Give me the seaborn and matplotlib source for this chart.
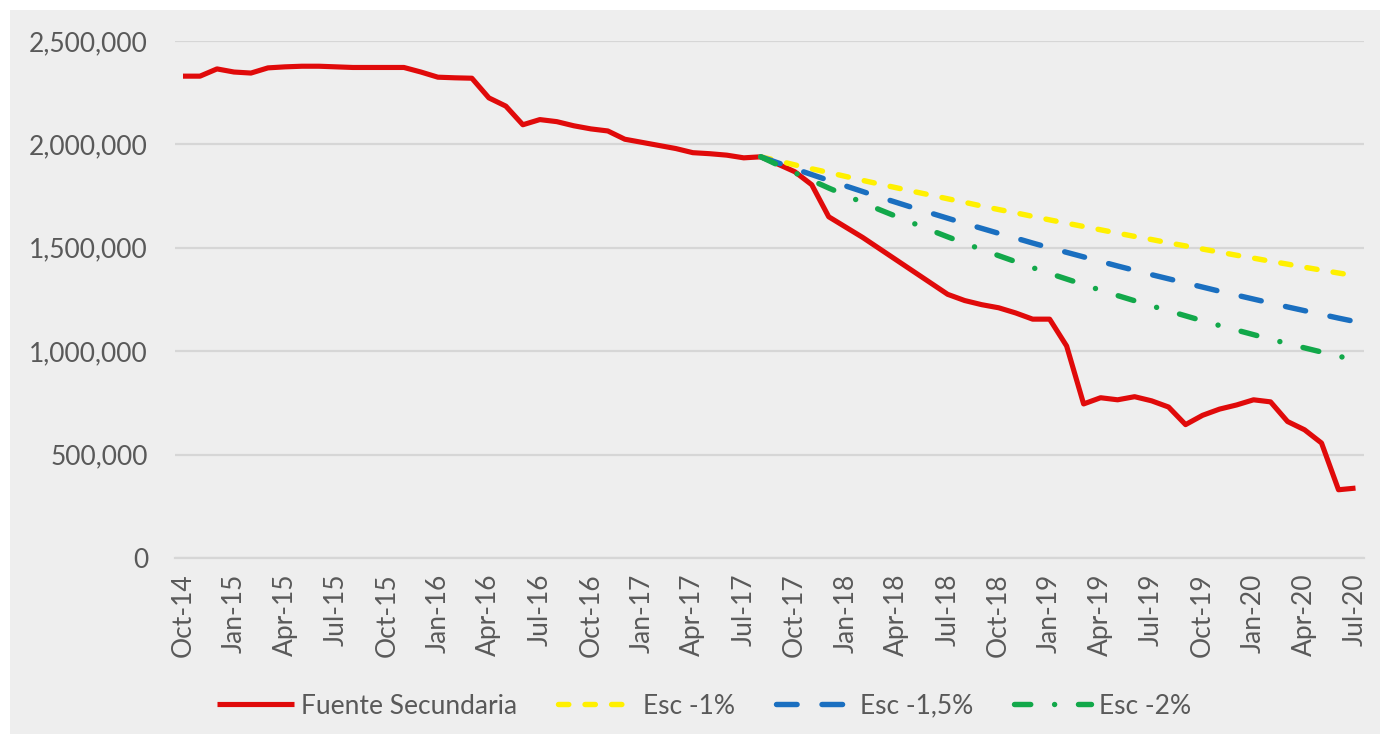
import numpy as np
import pandas as pd
import matplotlib
matplotlib.use("Agg")
import matplotlib.pyplot as plt
from matplotlib.ticker import FuncFormatter
from matplotlib.patches import Rectangle
import seaborn as sns

# ---------------- data ----------------
months = pd.date_range("2014-10-01", periods=70, freq="MS").strftime("%b-%y").tolist()

fuente_secundaria = [
    2330, 2330, 2365, 2350, 2345, 2370, 2375, 2378, 2378, 2375,
    2372, 2372, 2372, 2372, 2350, 2325, 2322, 2320, 2225, 2185,
    2095, 2120, 2110, 2090, 2075, 2065, 2025, 2010, 1995, 1980,
    1960, 1955, 1948, 1935, 1940, 1905, 1868, 1805, 1650, 1600,
    1550, 1495, 1440, 1385, 1330, 1275, 1245, 1225, 1210, 1185,
    1155, 1155, 1025, 745, 775, 765, 780, 760, 730, 645,
    690, 720, 740, 765, 755, 660, 620, 556, 330, 338,
]  # thousands

scen_start = 34  # Aug-17
esc_1 = [1940, 1921, 1901, 1882, 1864, 1845, 1826, 1808, 1790, 1772, 1755, 1737,
         1720, 1702, 1685, 1669, 1652, 1635, 1619, 1603, 1587, 1571, 1555, 1540,
         1524, 1509, 1494, 1479, 1464, 1450, 1435, 1421, 1406, 1392, 1378, 1365]
esc_15 = [1940, 1911, 1882, 1854, 1826, 1799, 1772, 1745, 1719, 1693, 1668, 1643,
          1618, 1594, 1570, 1547, 1523, 1500, 1478, 1456, 1434, 1412, 1391, 1370,
          1350, 1330, 1310, 1290, 1271, 1252, 1233, 1214, 1196, 1178, 1160, 1143]
esc_2 = [1940, 1901, 1863, 1826, 1789, 1754, 1719, 1684, 1651, 1618, 1585, 1553,
         1522, 1492, 1462, 1433, 1404, 1376, 1349, 1322, 1295, 1269, 1244, 1219,
         1195, 1171, 1147, 1124, 1102, 1080, 1058, 1037, 1016, 996, 976, 957]

series_names = ["Fuente Secundaria", "Esc -1%", "Esc -1,5%", "Esc -2%"]
colors = ["#E00A0A", "#FFF000", "#1A6FC0", "#12A84A"]
yticks = [0, 500000, 1000000, 1500000, 2000000, 2500000]

# ---------------- figure ----------------
sns.set_theme(style="white")
plt.rcParams["font.family"] = ["Lato", "DejaVu Sans"]

W, H = 1386, 738
fig = plt.figure(figsize=(W / 100, H / 100), dpi=100, facecolor="white")
bg = "#EEEEEE"
fig.patches.append(Rectangle((10 / W, 4 / H), (W - 16) / W, (H - 14) / H,
                             transform=fig.transFigure, facecolor=bg,
                             edgecolor="none", zorder=-10))

left, right, top, bottom = 174.5, 1364, 41, 558
ax = fig.add_axes([left / W, 1 - bottom / H, (right - left) / W, (bottom - top) / H])
ax.set_facecolor(bg)

x_all = np.arange(len(months))
x_sc = np.arange(scen_start, scen_start + len(esc_1))

lw = 3.7
dlw = 3.9
sns.lineplot(x=x_all, y=np.array(fuente_secundaria) * 1000, ax=ax, color=colors[0],
             linewidth=lw, label=series_names[0], solid_capstyle="butt", solid_joinstyle="round")
sns.lineplot(x=x_sc, y=np.array(esc_1) * 1000, ax=ax, color=colors[1],
             linewidth=dlw, label=series_names[1])
ax.lines[-1].set_dashes([1.9, 3.0])
ax.lines[-1].set_dash_capstyle("round")
sns.lineplot(x=x_sc, y=np.array(esc_15) * 1000, ax=ax, color=colors[2],
             linewidth=dlw, label=series_names[2])
ax.lines[-1].set_dashes([3.8, 4.6])
ax.lines[-1].set_dash_capstyle("round")
sns.lineplot(x=x_sc, y=np.array(esc_2) * 1000, ax=ax, color=colors[3],
             linewidth=dlw, label=series_names[3])
ax.lines[-1].set_dashes([3.0, 4.4, 0.01, 4.4])
ax.lines[-1].set_dash_capstyle("round")

ax.set_xlim(-0.5, len(months) - 0.5)
ax.set_ylim(0, 2500000)
ax.set_yticks(yticks)
ax.yaxis.set_major_formatter(FuncFormatter(lambda v, p: f"{v:,.0f}"))
ax.set_xticks(x_all[::3])
ax.set_xticklabels(months[::3], rotation=90)
ax.set_xlabel("")
ax.set_ylabel("")

ax.grid(axis="y", color="#D6D6D6", linewidth=1.6)
ax.set_axisbelow(True)
for s in ["top", "right", "left"]:
    ax.spines[s].set_visible(False)
ax.spines["bottom"].set_color("#D6D6D6")
ax.spines["bottom"].set_linewidth(1.6)

ax.tick_params(axis="y", length=0, pad=19, labelsize=19, labelcolor="#595959")
ax.tick_params(axis="x", length=4, width=1, color="#D6D6D6", pad=7,
               labelsize=19, labelcolor="#595959", direction="out")

handles, labels = ax.get_legend_handles_labels()
ax.get_legend().remove()
fig.legend(handles, labels, loc="center", bbox_to_anchor=(704 / W, 1 - 706 / H),
           ncol=4, frameon=False, fontsize=19, labelcolor="#595959",
           handlelength=2.9, handletextpad=0.3, columnspacing=1.55)

fig.savefig("out.png", dpi=100, facecolor="white")
